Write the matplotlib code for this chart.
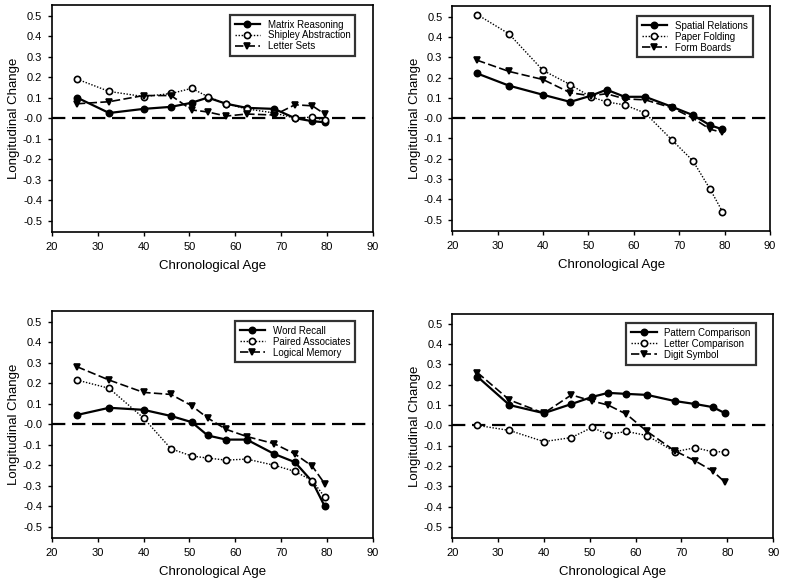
import matplotlib.pyplot as plt
import numpy as np

plt.rcParams['font.family'] = ['Liberation Sans', 'DejaVu Sans']

# ages of the 12 groups
age = [25.5, 32.5, 40, 46, 50.5, 54, 58, 62.5, 68.5, 73, 76.8, 79.5]

# panel 1 - reasoning
matrix = [0.10, 0.025, 0.045, 0.055, 0.075, 0.10, 0.07, 0.05, 0.045, 0.0, -0.015, -0.02]
shipley = [0.19, 0.13, 0.105, 0.12, 0.145, 0.105, 0.07, 0.045, 0.025, 0.0, 0.005, -0.01]
letter_sets = [0.07, 0.08, 0.11, 0.11, 0.04, 0.03, 0.01, 0.02, 0.015, 0.065, 0.06, 0.02]

# panel 2 - spatial
spatial = [0.22, 0.16, 0.115, 0.08, 0.11, 0.14, 0.105, 0.105, 0.055, 0.015, -0.035, -0.055]
paper = [0.51, 0.415, 0.235, 0.165, 0.105, 0.08, 0.065, 0.025, -0.11, -0.21, -0.35, -0.46]
form = [0.285, 0.23, 0.19, 0.125, 0.11, 0.12, 0.095, 0.09, 0.05, 0.0, -0.055, -0.07]

# panel 3 - memory
word = [0.045, 0.08, 0.07, 0.04, 0.01, -0.055, -0.075, -0.075, -0.145, -0.185, -0.28, -0.40]
paired = [0.215, 0.175, 0.03, -0.12, -0.155, -0.165, -0.175, -0.17, -0.20, -0.23, -0.275, -0.355]
logical = [0.28, 0.215, 0.155, 0.145, 0.09, 0.03, -0.025, -0.06, -0.095, -0.145, -0.205, -0.29]

# panel 4 - speed
pattern = [0.24, 0.10, 0.06, 0.105, 0.14, 0.16, 0.155, 0.15, 0.12, 0.105, 0.09, 0.06]
letter_comp = [0.0, -0.025, -0.08, -0.06, -0.01, -0.045, -0.03, -0.05, -0.13, -0.11, -0.13, -0.13]
digit = [0.26, 0.125, 0.06, 0.15, 0.12, 0.10, 0.055, -0.03, -0.125, -0.175, -0.225, -0.28]

panels = [
    ([matrix, shipley, letter_sets], ["Matrix Reasoning", "Shipley Abstraction", "Letter Sets"]),
    ([spatial, paper, form], ["Spatial Relations", "Paper Folding", "Form Boards"]),
    ([word, paired, logical], ["Word Recall", "Paired Associates", "Logical Memory"]),
    ([pattern, letter_comp, digit], ["Pattern Comparison", "Letter Comparison", "Digit Symbol"]),
]

# axes positions in figure fractions
positions = [
    [0.066, 0.602, 0.409, 0.389],
    [0.576, 0.604, 0.405, 0.385],
    [0.066, 0.077, 0.409, 0.389],
    [0.576, 0.077, 0.409, 0.385],
]

styles = [
    dict(ls='-', marker='o', mfc='black', lw=1.6),
    dict(ls=(0, (1, 1.2)), marker='o', mfc='white', lw=1.0),
    dict(ls=(0, (5, 2)), marker='v', mfc='black', lw=1.2),
]

fig = plt.figure(figsize=(7.85, 5.83), dpi=100)

for (series, names), pos in zip(panels, positions):
    ax = fig.add_axes(pos)
    ax.axhline(0, color='black', lw=1.6, ls=(0, (6, 3)), zorder=1)
    for vals, name, st in zip(series, names, styles):
        ax.plot(age, vals, color='black', mec='black', ms=4.5, mew=1.2,
                label=name, **st)
    ax.set_xlim(20, 90)
    ax.set_ylim(-0.555, 0.55)
    ax.set_xticks(np.arange(20, 91, 10))
    ax.set_yticks(np.arange(-0.5, 0.51, 0.1))
    ax.set_yticklabels(['%.1f' % v for v in np.arange(-0.5, 0.51, 0.1)])
    ax.tick_params(labelsize=8, direction='out', length=3, width=1, pad=4)
    for s in ax.spines.values():
        s.set_linewidth(1.2)
    ax.set_xlabel("Chronological Age", fontsize=9.5, labelpad=6)
    ax.set_ylabel("Longitudinal Change", fontsize=9.5, labelpad=2)
    leg = ax.legend(loc='upper right', fontsize=7, frameon=True, fancybox=False,
                    edgecolor='black', borderpad=0.5, handlelength=2.6,
                    numpoints=1, labelspacing=0.1,
                    bbox_to_anchor=(0.96, 0.98))
    leg.get_frame().set_linewidth(1.6)

fig.savefig("out.png", dpi=100)
